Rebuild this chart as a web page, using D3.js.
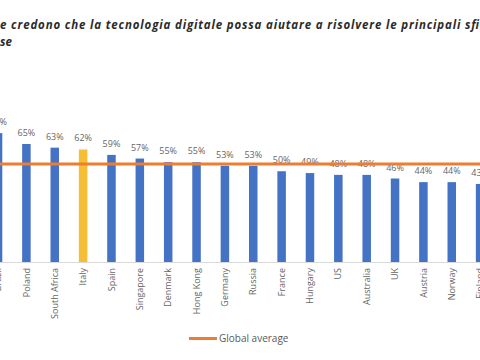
<!DOCTYPE html>
<html>
<head>
<meta charset="utf-8">
<script src="https://cdn.jsdelivr.net/npm/d3@7"></script>
<style>
  html, body { margin: 0; padding: 0; background: #fff; }
  svg { display: block; }
</style>
</head>
<body>
<svg id="chart" width="480" height="360"></svg>
<script>
const categories = ["Brazil", "Poland", "South Africa", "Italy", "Spain", "Singapore", "Denmark", "Hong Kong", "Germany", "Russia", "France", "Hungary", "US", "Australia", "UK", "Austria", "Norway", "Finland"];
const values = [71, 65, 63, 62, 59, 57, 55, 55, 53, 53, 50, 49, 48, 48, 46, 44, 44, 43];
const highlight = ["Italy"];
const globalAverage = 54;
const titleLines = ["e credono che la tecnologia digitale possa aiutare a risolvere le principali sfi", "se"];
const legendLabel = "Global average";

const svg = d3.select("#chart");
const W = 480, H = 360;

const x = d3.scaleBand()
  .domain(categories)
  .range([-16.14, 494.3])
  .paddingInner(0.7)
  .paddingOuter(0.35);

const y = d3.scaleLinear().domain([0, 100]).range([262, 80.5]);

// Title
const title = svg.append("g")
  .attr("font-family", "'Open Sans', sans-serif")
  .attr("font-weight", "bold")
  .attr("font-style", "italic")
  .attr("font-size", 11.5)
  .attr("fill", "#2b2b2b");
title.append("text").attr("x", 0).attr("y", 29)
  .attr("textLength", 479).attr("lengthAdjust", "spacing")
  .text(titleLines[0]);
title.append("text").attr("x", 0).attr("y", 46).text(titleLines[1]);

// axis line
svg.append("line")
  .attr("x1", 0).attr("x2", W)
  .attr("y1", y(0) + 0.5).attr("y2", y(0) + 0.5)
  .attr("stroke", "#d9d9d9").attr("stroke-width", 1);

// bars
svg.append("g").selectAll("rect")
  .data(categories)
  .join("rect")
  .attr("x", d => x(d))
  .attr("width", x.bandwidth())
  .attr("y", (d, i) => y(values[i]))
  .attr("height", (d, i) => y(0) - y(values[i]))
  .attr("fill", d => highlight.includes(d) ? "#F6BE35" : "#4472C4");

// value labels
svg.append("g")
  .attr("font-family", "'Open Sans', sans-serif")
  .attr("font-size", 9)
  .attr("fill", "#666")
  .attr("text-anchor", "middle")
  .selectAll("text")
  .data(categories)
  .join("text")
  .attr("x", d => x(d) + x.bandwidth() / 2)
  .attr("y", (d, i) => y(values[i]) - 8)
  .text((d, i) => values[i] + "%");

// average line
svg.append("line")
  .attr("x1", 0).attr("x2", W)
  .attr("y1", y(globalAverage)).attr("y2", y(globalAverage))
  .attr("stroke", "#ED7D31").attr("stroke-width", 3);

// category labels
svg.append("g")
  .attr("font-family", "'Open Sans', sans-serif")
  .attr("font-size", 9)
  .attr("fill", "#666")
  .attr("text-anchor", "end")
  .selectAll("text")
  .data(categories)
  .join("text")
  .attr("transform", d => `translate(${x(d) + x.bandwidth() / 2},268) rotate(-90)`)
  .attr("dy", "0.35em")
  .text(d => d);

// legend
svg.append("line")
  .attr("x1", 189).attr("x2", 217)
  .attr("y1", 338.5).attr("y2", 338.5)
  .attr("stroke", "#ED7D31").attr("stroke-width", 3);
svg.append("text")
  .attr("x", 219).attr("y", 342)
  .attr("font-family", "'Open Sans', sans-serif")
  .attr("font-size", 10)
  .attr("fill", "#595959")
  .text(legendLabel);
</script>
</body>
</html>
